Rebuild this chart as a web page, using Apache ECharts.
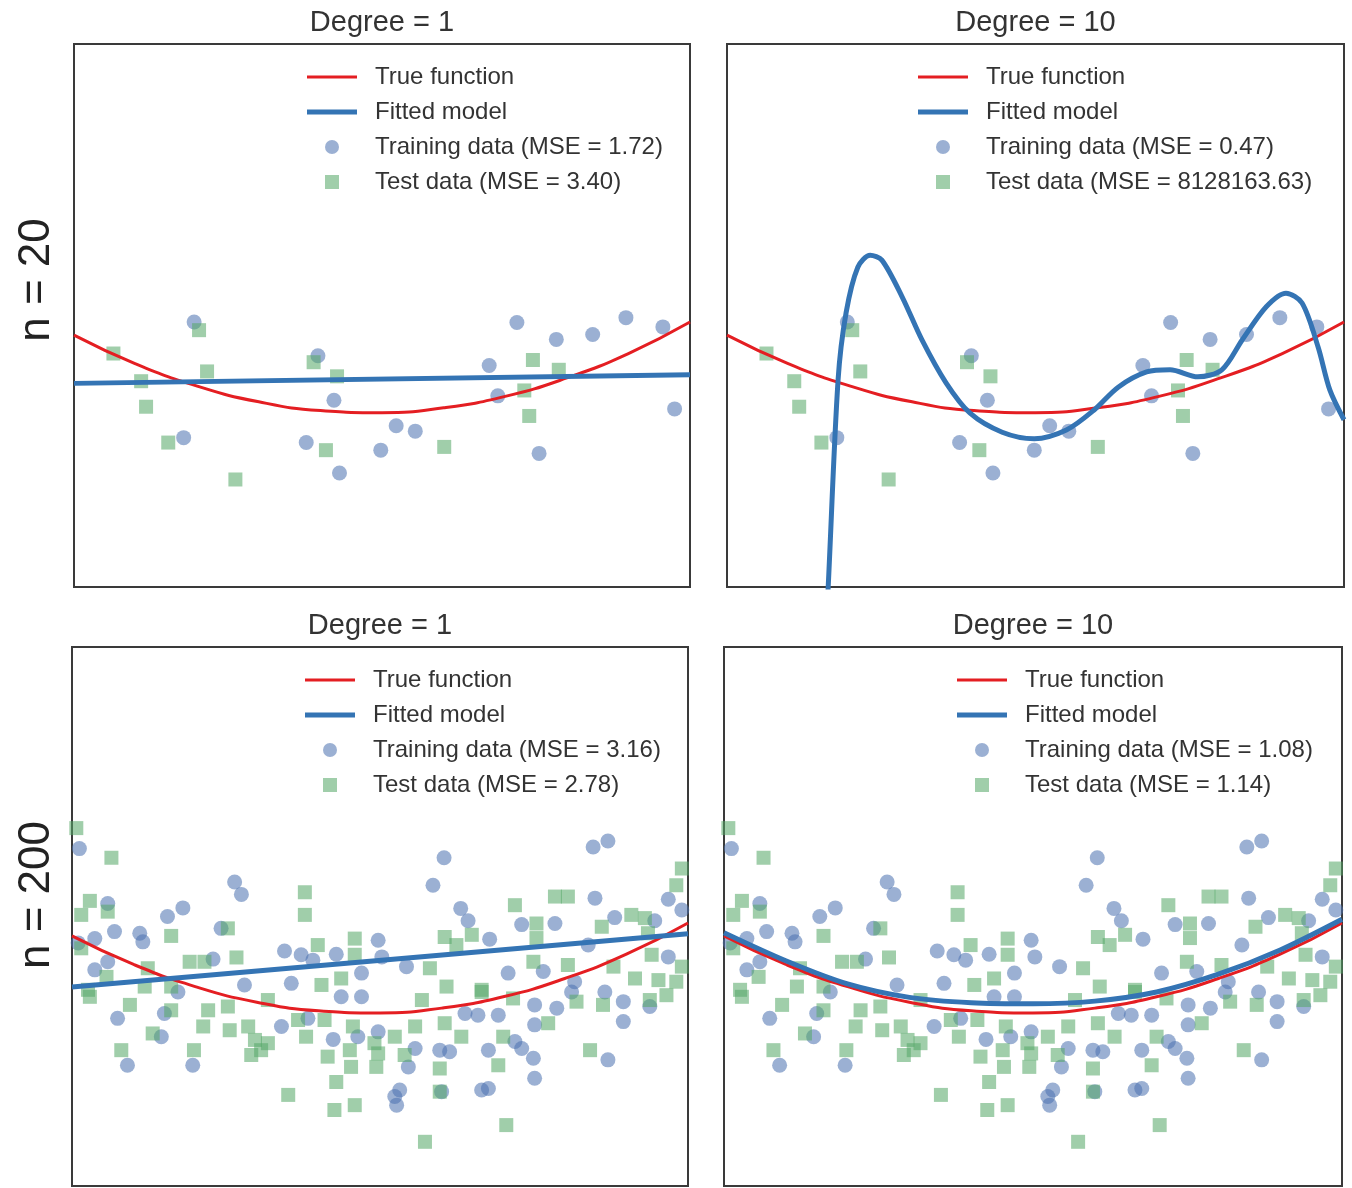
<!DOCTYPE html>
<html>
<head>
<meta charset="utf-8">
<title>Degree 1 / Degree 10 fits</title>
<script src="https://cdn.jsdelivr.net/npm/echarts/dist/echarts.min.js"></script>
<style>
	html, body { margin: 0; padding: 0; background: #fff; }
	#main { width: 1352px; height: 1188px; }
</style>
</head>
<body>
<div id="main"></div>
<script>

//true function (same in all four panels)
var curveX = [0, 10, 20, 30, 40, 50, 60, 70, 80, 90, 100];
var trueY = [46.4, 41.1, 37.0, 34.1, 32.5, 32.1, 33.0, 35.1, 38.5, 43.0, 48.8];

//n = 20, degree 1 fit
var fit1X20 = [0, 100];
var fit1Y20 = [37.5, 39.1];
//n = 20, degree 10 fit (leaves the panel at the bottom on the left)
var fit10X20 = [16.0, 16.4, 18.0, 19.3, 21.2, 23.2, 25.1, 28.4, 31.6, 35.5, 39.4, 44.6, 49.8, 55.0, 59.5, 63.4, 68.0, 71.8, 76.3, 80.2, 83.5, 87.4, 90.6, 93.2, 95.8, 97.7, 100];
var fit10Y20 = [-8, 0, 38.1, 50.5, 58.9, 61.1, 60.2, 53.4, 45.5, 37.6, 32.0, 28.5, 27.3, 28.9, 32.6, 36.8, 39.6, 40.0, 38.7, 40.0, 45.5, 51.6, 54.1, 52.3, 44.2, 36.3, 30.8];

//n = 200, degree 1 and degree 10 fits
var fit1X200 = [0, 100];
var fit1Y200 = [36.9, 46.8];
var fit10Y200 = [47.0, 41.8, 37.5, 35.0, 34.0, 33.8, 34.3, 36.0, 39.3, 43.8, 49.5];

//n = 20 samples
var train20X = [19.5, 39.6, 42.2, 71.9, 78.3, 84.2, 89.6, 95.6, 67.4, 68.8, 97.5, 17.8, 37.7, 52.3, 55.4, 49.8, 43.1, 75.5];
var train20Y = [48.8, 42.6, 34.4, 48.7, 45.6, 46.5, 49.6, 47.9, 40.8, 35.2, 32.8, 27.5, 26.6, 29.7, 28.7, 25.2, 21.0, 24.6];
var test20X = [6.4, 10.9, 11.7, 15.3, 20.3, 21.6, 26.2, 38.9, 42.7, 40.9, 60.1, 74.5, 78.7, 73.1, 73.9];
var test20Y = [43.0, 37.9, 33.2, 26.6, 47.3, 39.7, 19.8, 41.4, 38.8, 25.2, 25.8, 41.8, 40.0, 36.2, 31.5];

//n = 200 samples (visible ones)
var train200X = [1.2, 26.4, 27.5, 18.0, 15.5, 5.8, 6.9, 11.0, 11.5, 24.2, 34.5, 37.2, 39.1, 42.9, 49.7, 3.7, 3.7, 5.8, 22.9, 35.6, 28.0, 47.0, 60.4, 58.6, 84.6, 87.0, 84.9, 96.8, 99.0, 63.1, 64.3, 73.0, 78.4, 88.1, 94.6, 67.8, 50.3, 54.3, 70.8, 76.5, 96.8, 83.8, 81.6, 7.4, 9.0, 19.6, 14.5, 15.0, 17.2, 34.0, 42.4, 46.4, 49.7, 47.0, 43.7, 38.3, 75.1, 78.7, 89.5, 89.5, 93.8, 75.1, 69.2, 65.9, 63.8, 54.6, 55.7, 59.7, 61.3, 67.6, 71.9, 73.0, 74.9, 75.1, 87.0, 66.5, 67.6, 53.2, 52.4, 52.7, 60.0, 81.1, 86.5, 1.0];
var train200Y = [62.6, 56.4, 54.1, 51.6, 50.0, 52.4, 47.2, 46.9, 45.3, 47.8, 43.6, 42.9, 41.9, 43.0, 45.6, 45.9, 40.1, 41.6, 42.1, 37.6, 37.3, 39.5, 60.9, 55.8, 62.9, 64.0, 53.4, 53.2, 51.2, 51.5, 49.2, 48.5, 48.7, 49.8, 49.2, 45.8, 42.5, 40.7, 39.5, 39.8, 42.5, 44.7, 37.9, 31.1, 22.4, 22.4, 27.7, 32.0, 36.0, 29.6, 27.2, 27.7, 28.6, 35.1, 35.1, 31.1, 33.6, 33.0, 34.2, 30.5, 33.3, 29.9, 31.7, 31.7, 32.0, 22.1, 25.5, 25.2, 24.9, 25.2, 26.8, 25.5, 23.7, 20.0, 23.4, 17.8, 18.1, 17.8, 16.6, 15.0, 17.5, 36.0, 36.0, 45.1];
var test200X = [0.7, 6.4, 37.8, 37.8, 25.3, 16.1, 2.9, 1.5, 5.8, 39.9, 26.7, 45.9, 19.1, 21.5, 1.5, 12.3, 5.6, 45.9, 43.7, 40.5, 11.8, 16.1, 2.6, 71.9, 78.4, 80.5, 99.0, 98.1, 75.4, 60.5, 64.9, 62.4, 86.0, 90.8, 93.0, 93.5, 75.4, 58.1, 74.9, 80.5, 94.1, 87.9, 91.4, 99.0, 98.1, 60.8, 66.5, 95.2, 2.9, 9.4, 8.0, 13.1, 16.1, 22.1, 21.3, 19.8, 25.3, 25.6, 28.6, 29.7, 30.7, 29.1, 31.8, 35.1, 38.0, 41.5, 42.9, 42.6, 45.9, 45.1, 45.3, 49.4, 41.0, 36.7, 45.6, 31.8, 49.1, 49.7, 54.0, 59.7, 69.2, 70.0, 77.3, 84.1, 70.5, 57.3, 59.7, 86.2, 93.8, 96.5, 81.9, 60.5, 63.2, 55.7, 52.4, 71.6, 56.8, 66.5];
var test200Y = [66.4, 60.9, 54.5, 50.3, 47.8, 46.4, 52.9, 50.3, 50.9, 44.7, 42.4, 45.9, 41.6, 41.6, 44.1, 40.4, 38.8, 42.9, 38.5, 37.3, 37.0, 37.0, 36.4, 52.1, 53.7, 53.7, 58.9, 55.8, 48.7, 46.2, 46.6, 44.7, 48.1, 50.3, 49.7, 46.9, 46.0, 40.4, 41.6, 41.0, 42.9, 40.7, 38.5, 40.7, 37.9, 37.0, 36.4, 38.2, 35.1, 33.6, 25.2, 28.3, 32.6, 32.6, 29.6, 25.2, 33.3, 28.9, 29.6, 27.1, 25.2, 24.3, 26.5, 16.9, 27.7, 24.0, 19.3, 14.1, 15.0, 25.2, 22.1, 22.1, 30.8, 30.8, 29.6, 34.5, 26.5, 24.6, 24.3, 21.8, 22.4, 27.7, 30.2, 25.2, 11.3, 8.2, 17.5, 33.6, 34.5, 35.4, 34.2, 30.2, 27.7, 29.6, 27.7, 34.8, 34.5, 36.0];

//panel texts
var panelTitles = ['Degree = 1', 'Degree = 10', 'Degree = 1', 'Degree = 10'];
var rowLabels = ['n = 20', 'n = 200'];
var trainNames = ['Training data (MSE = 1.72)', 'Training data (MSE = 0.47)', 'Training data (MSE = 3.16)', 'Training data (MSE = 1.08)'];
var testNames = ['Test data (MSE = 3.40)', 'Test data (MSE = 8128163.63)', 'Test data (MSE = 2.78)', 'Test data (MSE = 1.14)'];

var FONT = '"Liberation Sans", Arial, sans-serif';
var RED = '#e41e22';
var BLUE = '#3474b4';

var pairs = function(xs, ys) {
	var out = [];
	for(var i = 0; i < xs.length; i++) {
		out.push([xs[i], ys[i]]);
	}
	return out;
};

//panel layout: [left, top, width, height]
var panels = [
	[74, 44, 616, 543],
	[727, 44, 617, 543],
	[72, 647, 616, 539],
	[724, 647, 618, 539]
];
//legend left edge per panel
var legendLeft = [307, 918, 305, 957];

var buildOption = function() {
	var grids = [], xAxes = [], yAxes = [], series = [], legends = [], graphics = [];

	var panelData = [
		{ train: pairs(train20X, train20Y), test: pairs(test20X, test20Y), fit: pairs(fit1X20, fit1Y20) },
		{ train: pairs(train20X, train20Y), test: pairs(test20X, test20Y), fit: pairs(fit10X20, fit10Y20) },
		{ train: pairs(train200X, train200Y), test: pairs(test200X, test200Y), fit: pairs(fit1X200, fit1Y200) },
		{ train: pairs(train200X, train200Y), test: pairs(test200X, test200Y), fit: pairs(curveX, fit10Y200) }
	];

	for(var i = 0; i < 4; i++) {
		var p = panels[i];
		grids.push({
			left: p[0], top: p[1], width: p[2], height: p[3],
			show: true, borderColor: '#3a3a3a', borderWidth: 2, backgroundColor: '#fff',
			containLabel: false, outerBoundsMode: 'none'
		});
		xAxes.push({ type: 'value', gridIndex: i, min: 0, max: 100, show: false });
		yAxes.push({ type: 'value', gridIndex: i, min: 0, max: 100, show: false });

		series.push({
			name: trainNames[i], type: 'scatter', xAxisIndex: i, yAxisIndex: i,
			symbol: 'circle', symbolSize: 15, z: 2,
			itemStyle: { color: 'rgba(76,114,176,0.7)' },
			data: panelData[i].train
		});
		series.push({
			name: testNames[i], type: 'scatter', xAxisIndex: i, yAxisIndex: i,
			symbol: 'rect', symbolSize: 14, z: 3,
			itemStyle: { color: 'rgba(85,168,104,0.7)' },
			data: panelData[i].test
		});
		series.push({
			name: 'True function', type: 'line', xAxisIndex: i, yAxisIndex: i,
			smooth: true, symbol: 'none', showSymbol: false, z: 4,
			itemStyle: { color: RED },
			lineStyle: { color: RED, width: 3 },
			data: pairs(curveX, trueY)
		});
		series.push({
			name: 'Fitted model', type: 'line', xAxisIndex: i, yAxisIndex: i,
			smooth: 0.3, symbol: 'none', showSymbol: false, z: 5,
			itemStyle: { color: BLUE },
			lineStyle: { color: BLUE, width: 5 },
			data: panelData[i].fit
		});

		legends.push({
			left: legendLeft[i], top: p[1] + 21, padding: 0,
			orient: 'vertical', selectedMode: false,
			itemWidth: 50, itemHeight: 14, itemGap: 11,
			textStyle: { fontSize: 24, color: '#333', fontFamily: FONT, padding: [0, 0, 0, 13] },
			data: [
				{ name: 'True function', icon: 'path://M0,0H50V3H0Z', itemStyle: { color: RED } },
				{ name: 'Fitted model', icon: 'path://M0,0H50V5H0Z', itemStyle: { color: BLUE } },
				{ name: trainNames[i], icon: 'circle' },
				{ name: testNames[i], icon: 'path://M0,0H10V10H0Z' }
			]
		});

		//panel title
		graphics.push({
			type: 'text', x: p[0] + p[2] / 2, y: p[1] - 21,
			style: { text: panelTitles[i], font: '29px ' + FONT, fill: '#333', textAlign: 'center', textVerticalAlign: 'middle' }
		});
	}

	//row labels
	graphics.push({
		type: 'text', x: 37, y: 280, rotation: Math.PI / 2,
		style: { text: rowLabels[0], font: '44px ' + FONT, fill: '#222', textAlign: 'center', textVerticalAlign: 'middle' }
	});
	graphics.push({
		type: 'text', x: 37, y: 895, rotation: Math.PI / 2,
		style: { text: rowLabels[1], font: '44px ' + FONT, fill: '#222', textAlign: 'center', textVerticalAlign: 'middle' }
	});

	return {
		animation: false,
		backgroundColor: '#fff',
		grid: grids,
		xAxis: xAxes,
		yAxis: yAxes,
		legend: legends,
		graphic: graphics,
		series: series
	};
};

var chart = echarts.init(document.getElementById('main'));
chart.setOption(buildOption());
</script>
</body>
</html>
